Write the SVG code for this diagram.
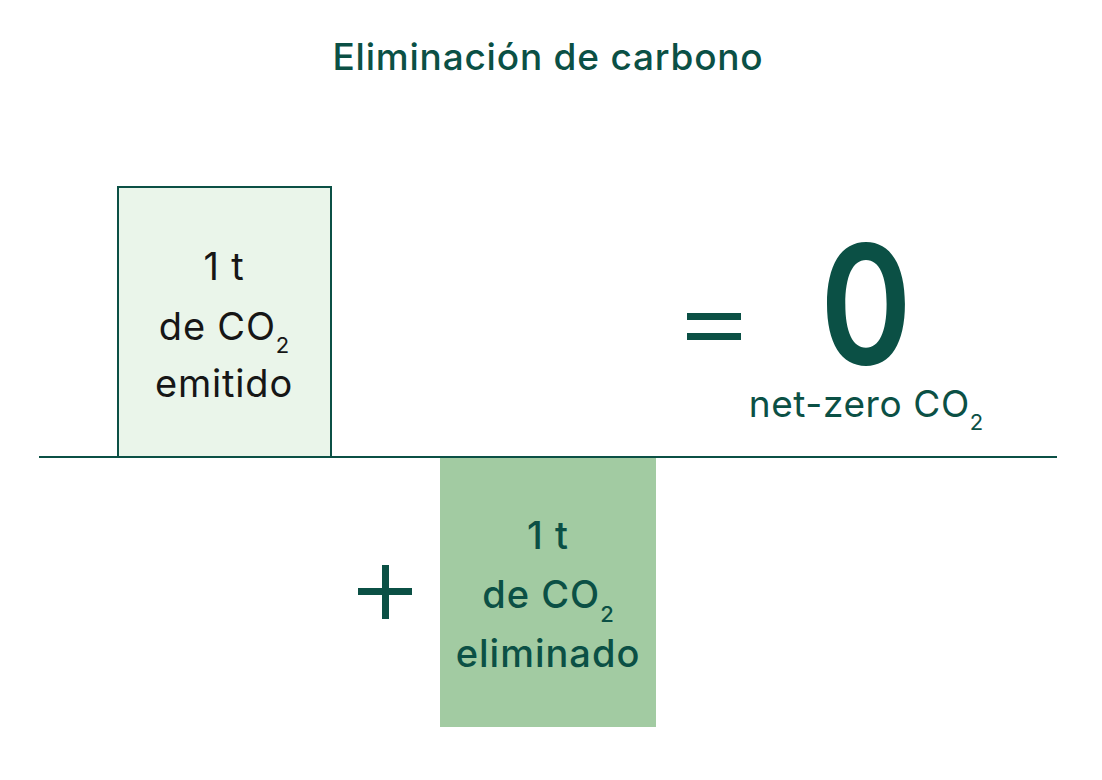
<svg xmlns="http://www.w3.org/2000/svg" width="1102" height="780" viewBox="0 0 1102 780">
<style>
text{font-family:Inter,"Noto Sans","Liberation Sans",sans-serif;fill:#0b5045;text-anchor:middle}
.t{font-size:37px;font-weight:500;letter-spacing:0.8px}
.b1{font-size:38px;font-weight:400;letter-spacing:0.8px;fill:#161616}
.b2{font-size:38px;font-weight:500;letter-spacing:1px}
.sub{font-size:22px;letter-spacing:0}
</style>
<rect width="1102" height="780" fill="#ffffff"/>
<text class="t" x="548" y="70">Eliminación de carbono</text>
<g id="emitido">
<rect x="118" y="187" width="213" height="270" fill="#eaf5ea" stroke="#0b5045" stroke-width="2"/>
<text class="b1" x="224" y="280">1 t</text>
<text class="b1" x="224" y="340">de CO<tspan class="sub" dy="13">2</tspan></text>
<text class="b1" x="224" y="397">emitido</text>
</g>
<g id="eliminado">
<rect x="440" y="458" width="216" height="269" fill="#a2cba2"/>
<text class="b2" x="548" y="549">1 t</text>
<text class="b2" x="548" y="608">de CO<tspan class="sub" dy="14">2</tspan></text>
<text class="b2" x="548" y="667">eliminado</text>
</g>
<g id="connectors">
<line x1="39" y1="457" x2="1057" y2="457" stroke="#0b5045" stroke-width="2"/>
</g>
<g id="plus" fill="#0b5045">
<rect x="358" y="588" width="54" height="7"/>
<rect x="382" y="565" width="7" height="54"/>
</g>
<g id="equals" fill="#0b5045">
<rect x="687" y="313" width="54" height="7"/>
<rect x="687" y="333" width="54" height="7"/>
</g>
<g id="zero">
<text transform="translate(866,364) scale(0.84,1)" x="0" y="0" style="font-size:166px;font-weight:600">0</text>
<text x="866" y="417" style="font-size:37px;font-weight:400;letter-spacing:0.6px">net-zero CO<tspan class="sub" dy="13" style="letter-spacing:0">2</tspan></text>
</g>
</svg>
